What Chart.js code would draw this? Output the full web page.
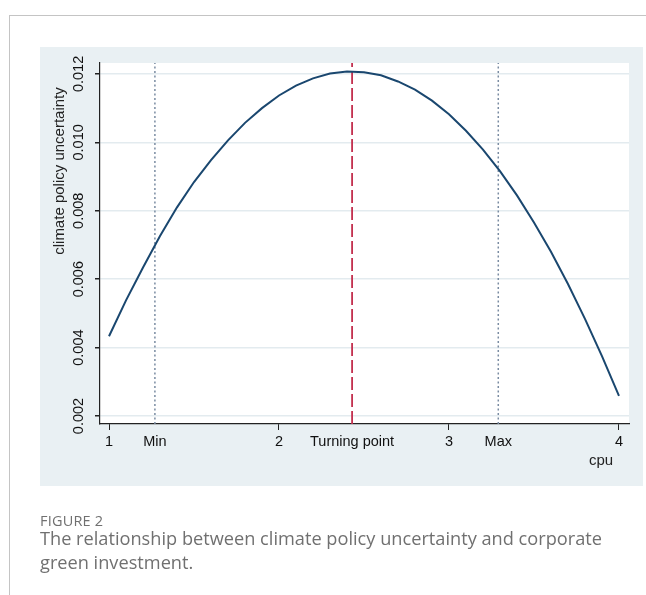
<!DOCTYPE html>
<html>
<head>
<meta charset="utf-8">
<script src="https://cdn.jsdelivr.net/npm/chart.js@4.4.1/dist/chart.umd.min.js"></script>
<style>
  html, body { margin: 0; padding: 0; background: #ffffff; }
  body { width: 646px; height: 595px; position: relative; overflow: hidden; }
  #card-top { position: absolute; left: 9px; top: 15px; width: 637px; height: 1px; background: #c4c4c4; }
  #card-left { position: absolute; left: 9px; top: 15px; width: 1px; height: 580px; background: #c4c4c4; }
  #chart { position: absolute; left: 0; top: 0; }
  .caption { position: absolute; left: 40px; font-family: "Open Sans", "Noto Sans", sans-serif; color: #707070; white-space: nowrap; }
  #fig-label { top: 511px; font-size: 14.5px; letter-spacing: 0.2px; }
  #fig-text { top: 526px; font-size: 18.2px; line-height: 24px; }
</style>
</head>
<body>
<div id="card-top"></div>
<div id="card-left"></div>
<canvas id="chart" width="646" height="595"></canvas>
<div class="caption" id="fig-label">FIGURE 2</div>
<div class="caption" id="fig-text">The relationship between climate policy uncertainty and corporate<br>green investment.</div>
<script>
// Fitted effect of cpu on corporate green investment
const cpuValues = [1.0, 1.1, 1.2, 1.3, 1.4, 1.5, 1.6, 1.7, 1.8, 1.9, 2.0,
                   2.1, 2.2, 2.3, 2.4, 2.5, 2.6, 2.7, 2.8, 2.9, 3.0,
                   3.1, 3.2, 3.3, 3.4, 3.5, 3.6, 3.7, 3.8, 3.9, 4.0];
const fittedValues = [0.00433, 0.00538, 0.00634, 0.00726, 0.00810, 0.00884, 0.00948, 0.01006, 0.01057, 0.01100, 0.01137,
                      0.01166, 0.01187, 0.01201, 0.01207, 0.01205, 0.01196, 0.01178, 0.01154, 0.01122, 0.01082,
                      0.01034, 0.00979, 0.00916, 0.00845, 0.00766, 0.00680, 0.00586, 0.00484, 0.00375, 0.00259];

// Reference markers on the cpu axis
const markerNames = ['Min', 'Turning point', 'Max'];
const markerValues = [1.27, 2.43, 3.29];

// Axis ticks
const xTickValues = [1, 2, 3, 4];
const yTickValues = [0.002, 0.004, 0.006, 0.008, 0.010, 0.012];

const yTitle = 'climate policy uncertainty';
const xTitle = 'cpu';

const Y_MIN = 0.001766, Y_MAX = 0.01232;
const X_MIN = 0.947, X_MAX = 4.059;
const AXIS_FONT = { family: '"Liberation Sans", Arial, sans-serif', size: 14.5 };
const TITLE_FONT = '15px "Liberation Sans", Arial, sans-serif';

function verticalLine(value, color, dash, width) {
  return {
    data: [{ x: value, y: Y_MIN }, { x: value, y: Y_MAX }],
    borderColor: color,
    borderDash: dash,
    borderWidth: width,
    pointRadius: 0,
    fill: false,
    order: 2
  };
}

const backdrop = {
  id: 'backdrop',
  beforeDraw(chart) {
    const { ctx, chartArea } = chart;
    ctx.save();
    ctx.fillStyle = '#e9f0f3';
    ctx.fillRect(40, 47, 603, 439);
    ctx.fillStyle = '#ffffff';
    ctx.fillRect(chartArea.left, chartArea.top, chartArea.right - chartArea.left, chartArea.bottom - chartArea.top);
    ctx.restore();
  },
  afterDraw(chart) {
    const { ctx } = chart;
    ctx.save();
    ctx.fillStyle = '#222222';
    ctx.font = TITLE_FONT;
    ctx.textAlign = 'center';
    ctx.textBaseline = 'middle';
    ctx.translate(60, 171);
    ctx.rotate(-Math.PI / 2);
    ctx.fillText(yTitle, 0, 0);
    ctx.restore();
    ctx.save();
    ctx.fillStyle = '#222222';
    ctx.font = TITLE_FONT;
    ctx.textAlign = 'center';
    ctx.textBaseline = 'middle';
    ctx.fillText(xTitle, 601, 461);
    ctx.restore();
  }
};

new Chart(document.getElementById('chart'), {
  type: 'line',
  data: {
    datasets: [
      {
        data: cpuValues.map((x, i) => ({ x: x, y: fittedValues[i] })),
        borderColor: '#1a476f',
        borderWidth: 2,
        pointRadius: 0,
        tension: 0,
        fill: false,
        order: 1
      },
      verticalLine(markerValues[0], '#7a8ca2', [2, 2.5], 1.5),
      verticalLine(markerValues[1], '#c3304f', [13, 4], 1.8),
      verticalLine(markerValues[2], '#7a8ca2', [2, 2.5], 1.5)
    ]
  },
  options: {
    responsive: false,
    animation: false,
    events: [],
    layout: { padding: { left: 40, top: 63, right: 17, bottom: 121 } },
    plugins: { legend: { display: false }, tooltip: { enabled: false } },
    scales: {
      x: {
        type: 'linear',
        min: X_MIN,
        max: X_MAX,
        afterBuildTicks(scale) {
          scale.ticks = xTickValues.concat(markerValues).sort((a, b) => a - b).map(v => ({ value: v }));
        },
        afterFit(scale) { scale.height = 50; },
        ticks: {
          autoSkip: false,
          maxRotation: 0,
          minRotation: 0,
          padding: 3,
          color: '#111111',
          font: AXIS_FONT,
          callback(value) {
            const k = markerValues.indexOf(value);
            return k >= 0 ? markerNames[k] : String(value);
          }
        },
        grid: {
          drawOnChartArea: false,
          tickLength: 6,
          lineWidth: 1,
          tickColor: ctx => (ctx.tick && markerValues.indexOf(ctx.tick.value) >= 0) ? 'rgba(0,0,0,0)' : '#222222'
        },
        border: { color: '#222222', width: 1.2 }
      },
      y: {
        type: 'linear',
        min: Y_MIN,
        max: Y_MAX,
        afterBuildTicks(scale) {
          scale.ticks = yTickValues.map(v => ({ value: v }));
        },
        afterFit(scale) { scale.width = 60; },
        ticks: {
          minRotation: 90,
          maxRotation: 90,
          crossAlign: 'center',
          padding: -2,
          color: '#111111',
          font: AXIS_FONT,
          callback: value => value.toFixed(3)
        },
        grid: {
          color: '#e3ebef',
          lineWidth: 1.5,
          tickLength: 5,
          tickColor: '#222222'
        },
        border: { color: '#222222', width: 1.2 }
      }
    }
  },
  plugins: [backdrop]
});
</script>
</body>
</html>
